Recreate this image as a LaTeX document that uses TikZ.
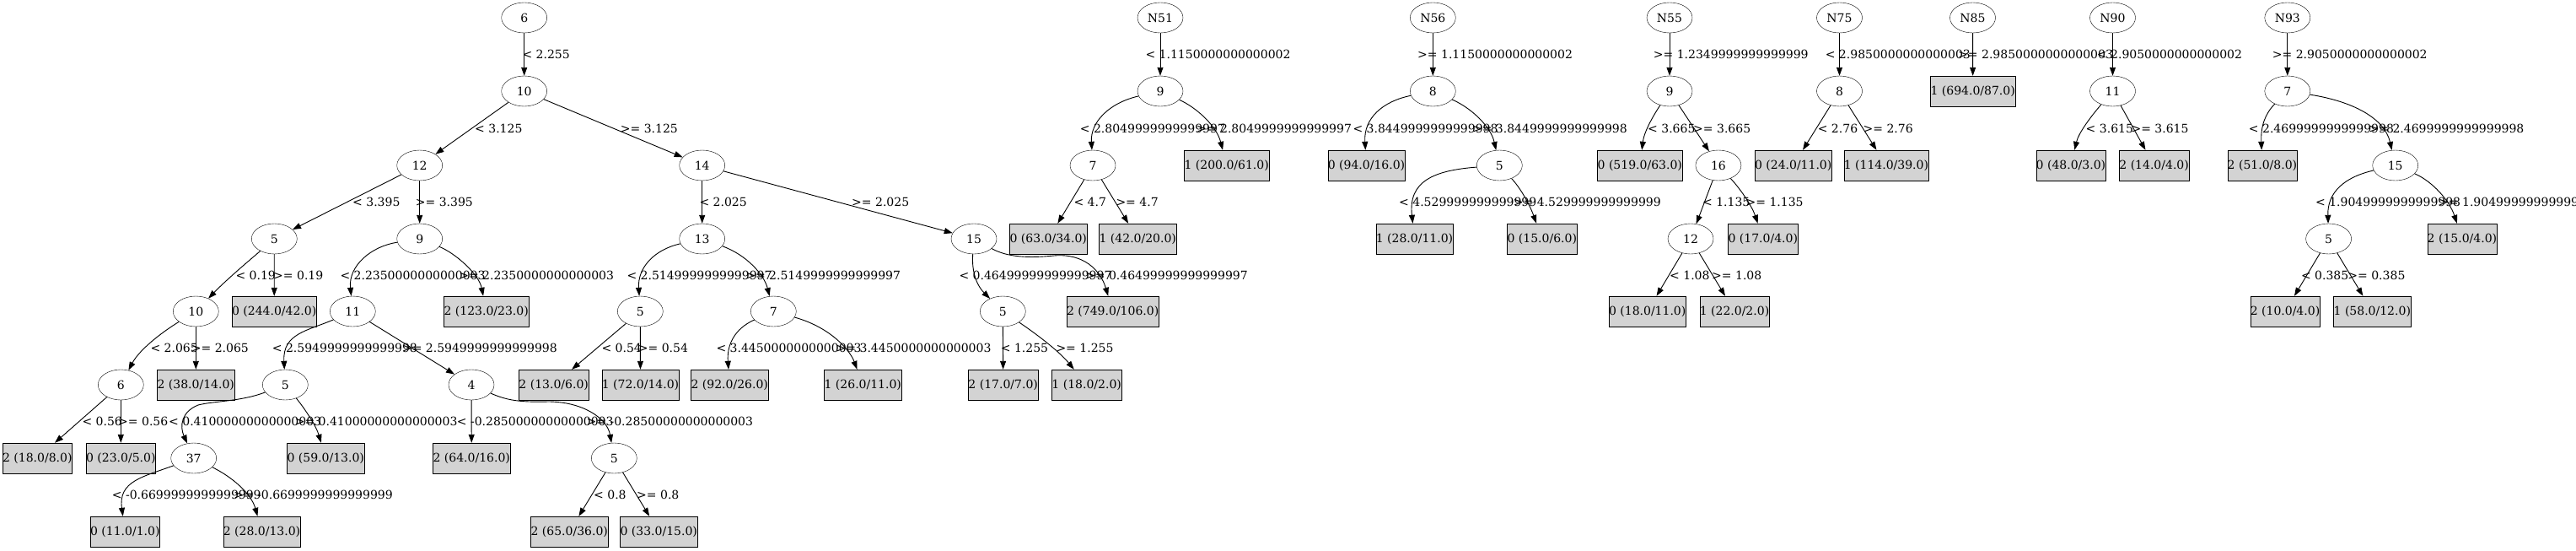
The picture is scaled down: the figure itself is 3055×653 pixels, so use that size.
\documentclass[tikz,border=0pt]{standalone}
\usepackage{fontspec}
\setmainfont{DejaVu Serif}
\usetikzlibrary{shapes.geometric,arrows.meta}
\definecolor{leafgray}{RGB}{211,211,211}
\begin{document}
\begin{tikzpicture}[x=1pt,y=-1pt,
  every node/.style={font=\fontsize{14pt}{16pt}\selectfont},
  ell/.style={draw, ellipse, minimum width=54pt, minimum height=36pt, inner sep=0pt},
  leaf/.style={draw, fill=leafgray, rectangle, minimum height=36pt, inner sep=0pt},
  lw/.style={anchor=base west, inner sep=0pt},
  le/.style={anchor=base east, inner sep=0pt},
  arr/.style={-{Triangle[length=10pt,width=7pt]}, line width=0.9pt}
]
\useasboundingbox (0,0) rectangle (3055,653);
% ---------------- tree 1 ----------------
\node[ell] (a0) at (621.7,21) {6};
\node[ell] (a1) at (621.7,108) {10};
\node[ell] (a2) at (497.7,196) {12};
\node[ell] (a3) at (832.7,196) {14};
\node[ell] (a4) at (325.3,283) {5};
\node[ell] (a5) at (497.7,283) {9};
\node[ell] (a6) at (832.7,283) {13};
\node[ell] (a7) at (1155,283) {15};
\node[ell] (a8) at (232.3,369) {10};
\node[leaf,minimum width=95pt] (a9) at (325.2,369) {0 (244.0/42.0)};
\node[ell] (a10) at (418.3,369) {11};
\node[leaf,minimum width=95pt] (a11) at (576.7,369) {2 (123.0/23.0)};
\node[ell] (a12) at (759.3,369) {5};
\node[ell] (a13) at (917.3,369) {7};
\node[ell] (a14) at (1189.3,369) {5};
\node[leaf,minimum width=101pt] (a15) at (1319.7,369) {2 (749.0/106.0)};
\node[ell] (a16) at (143.3,456) {6};
\node[leaf,minimum width=88pt] (a17) at (232.3,456) {2 (38.0/14.0)};
\node[ell] (a18) at (338.3,456) {5};
\node[ell] (a19) at (559,456) {4};
\node[leaf,minimum width=81pt] (a20) at (656.7,456) {2 (13.0/6.0)};
\node[leaf,minimum width=88pt] (a21) at (759.5,456) {1 (72.0/14.0)};
\node[leaf,minimum width=88pt] (a22) at (865.3,456) {2 (92.0/26.0)};
\node[leaf,minimum width=88pt] (a23) at (1023.3,456) {1 (26.0/11.0)};
\node[leaf,minimum width=81pt] (a24) at (1189.7,456) {2 (17.0/7.0)};
\node[leaf,minimum width=81pt] (a25) at (1288.7,456) {1 (18.0/2.0)};
\node[leaf,minimum width=81pt] (a26) at (44.3,543) {2 (18.0/8.0)};
\node[leaf,minimum width=81pt] (a27) at (143.3,543) {0 (23.0/5.0)};
\node[ell] (a28) at (229.7,543) {37};
\node[leaf,minimum width=88pt] (a29) at (386.3,543) {0 (59.0/13.0)};
\node[leaf,minimum width=88pt] (a30) at (559.3,543) {2 (64.0/16.0)};
\node[ell] (a31) at (728.3,543) {5};
\node[leaf,minimum width=81pt] (a32) at (148.3,630) {0 (11.0/1.0)};
\node[leaf,minimum width=88pt] (a33) at (310.5,630) {2 (28.0/13.0)};
\node[leaf,minimum width=88pt] (a34) at (675.3,630) {2 (65.0/36.0)};
\node[leaf,minimum width=88pt] (a35) at (781.3,630) {0 (33.0/15.0)};

\draw[arr] (a0) -- (a1);
\draw[arr] (a1) -- (a2);
\draw[arr] (a1) -- (a3);
\draw[arr] (a2) -- (a4);
\draw[arr] (a2) -- (a5);
\draw[arr] (a3) -- (a6);
\draw[arr] (a3) -- (a7);
\draw[arr] (a4) .. controls (300,305) and (270,330) .. (a8);
\draw[arr] (a4) -- (a9);
\draw[arr] (a5) .. controls (440,292) and (413,315) .. (a10);
\draw[arr] (a5) .. controls (540,300) and (568,325) .. (a11);
\draw[arr] (a6) .. controls (775,296) and (756,318) .. (a12);
\draw[arr] (a6) .. controls (885,302) and (906,325) .. (a13);
\draw[arr] (a7) .. controls (1152,325) and (1160,340) .. (a14);
\draw[arr] (a7) .. controls (1195,305) and (1220,306) .. (1250,303) .. controls (1285,300) and (1305,320) .. (a15);
\draw[arr] (a8) .. controls (190,395) and (165,415) .. (a16);
\draw[arr] (a8) -- (a17);
\draw[arr] (a10) .. controls (365,392) and (335,395) .. (a18);
\draw[arr] (a10) -- (a19);
\draw[arr] (a12) -- (a20);
\draw[arr] (a12) -- (a21);
\draw[arr] (a13) .. controls (870,390) and (862,410) .. (a22);
\draw[arr] (a13) .. controls (985,388) and (1008,415) .. (a23);
\draw[arr] (a14) -- (a24);
\draw[arr] (a14) .. controls (1225,393) and (1255,415) .. (a25);
\draw[arr] (a16) -- (a26);
\draw[arr] (a16) -- (a27);
\draw[arr] (a18) .. controls (285,476) and (255,475) .. (235,480) .. controls (215,488) and (213,505) .. (a28);
\draw[arr] (a18) .. controls (362,485) and (375,505) .. (a29);
\draw[arr] (a19) -- (a30);
\draw[arr] (a19) .. controls (600,474) and (615,477) .. (650,476) .. controls (690,476) and (720,495) .. (a31);
\draw[arr] (a28) .. controls (170,565) and (140,570) .. (a32);
\draw[arr] (a28) .. controls (275,565) and (298,585) .. (a33);
\draw[arr] (a31) -- (a34);
\draw[arr] (a31) -- (a35);

\node[lw] (la1) at (619.3,69.5) {< 2.255};
\node[lw] (la2) at (563,157) {< 3.125};
\node[lw] (la3) at (735.7,157) {>= 3.125};
\node[lw] (la4) at (418,244.5) {< 3.395};
\node[lw] (la5) at (492.7,244.5) {>= 3.395};
\node[lw] (la6) at (829.3,244.5) {< 2.025};
\node[lw] (la7) at (1010,244.5) {>= 2.025};
\node[lw] (la8) at (279.3,331) {< 0.19};
\node[lw] (la9) at (324,331) {>= 0.19};
\node[lw] (la10) at (403.3,331) {< 2.2350000000000003};
\node[le] (la11) at (728.3,331) {>= 2.2350000000000003};
\node[lw] (la12) at (743.3,331) {< 2.5149999999999997};
\node[le] (la13) at (1068.3,331) {>= 2.5149999999999997};
\node[lw] (la14) at (1137.3,331) {< 0.46499999999999997};
\node[le] (la15) at (1480,331) {>= 0.46499999999999997};
\node[lw] (la16) at (178.3,417.5) {< 2.065};
\node[lw] (la17) at (226.7,417.5) {>= 2.065};
\node[lw] (la18) at (322.7,417.5) {< 2.5949999999999998};
\node[le] (la19) at (661,417.5) {>= 2.5949999999999998};
\node[lw] (la20) at (713.3,417.5) {< 0.54};
\node[lw] (la21) at (756.7,417.5) {>= 0.54};
\node[lw] (la22) at (849.3,417.5) {< 3.4450000000000003};
\node[le] (la23) at (1175.7,417.5) {>= 3.4450000000000003};
\node[lw] (la24) at (1186.7,417.5) {< 1.255};
\node[lw] (la25) at (1252.3,417.5) {>= 1.255};
\node[lw] (la26) at (97.3,504.5) {< 0.56};
\node[lw] (la27) at (140,504.5) {>= 0.56};
\node[lw] (la28) at (200,504.5) {< 0.41000000000000003};
\node[le] (la29) at (542.7,504.5) {>= 0.41000000000000003};
\node[lw] (la30) at (541.7,504.5) {< -0.28500000000000003};
\node[le] (la31) at (893.3,504.5) {>= -0.28500000000000003};
\node[lw] (la32) at (132.7,591.5) {< -0.6699999999999999};
\node[le] (la33) at (466,591.5) {>= -0.6699999999999999};
\node[lw] (la34) at (704,591.5) {< 0.8};
\node[lw] (la35) at (755,591.5) {>= 0.8};

% ---------------- N51 ----------------
\node[ell] (b0) at (1376,21) {N51};
\node[ell] (b1) at (1376,108) {9};
\node[ell] (b2) at (1296,196) {7};
\node[leaf,minimum width=95pt] (b3) at (1454.7,196) {1 (200.0/61.0)};
\node[leaf,minimum width=88pt] (b4) at (1243.3,283) {0 (63.0/34.0)};
\node[leaf,minimum width=88pt] (b5) at (1349.3,283) {1 (42.0/20.0)};
\draw[arr] (b0) -- (b1);
\draw[arr] (b1) .. controls (1315,122) and (1293,145) .. (b2);
\draw[arr] (b1) .. controls (1420,128) and (1443,150) .. (b3);
\draw[arr] (b2) -- (b4);
\draw[arr] (b2) -- (b5);
\node[lw] (lb1) at (1358.3,69.5) {< 1.1150000000000002};
\node[lw] (lb2) at (1280.7,157) {< 2.8049999999999997};
\node[lw] (lb3) at (1419,157) {>= 2.8049999999999997};
\node[lw] (lb4) at (1273.3,244.5) {< 4.7};
\node[lw] (lb5) at (1323.3,244.5) {>= 4.7};

% ---------------- N56 ----------------
\node[ell] (c0) at (1699.3,21) {N56};
\node[ell] (c1) at (1699.3,108) {8};
\node[leaf,minimum width=88pt] (c2) at (1620.5,196) {0 (94.0/16.0)};
\node[ell] (c3) at (1778.3,196) {5};
\node[leaf,minimum width=88pt] (c4) at (1677.5,283) {1 (28.0/11.0)};
\node[leaf,minimum width=81pt] (c5) at (1828.8,283) {0 (15.0/6.0)};
\draw[arr] (c0) -- (c1);
\draw[arr] (c1) .. controls (1640,120) and (1617,140) .. (c2);
\draw[arr] (c1) .. controls (1745,128) and (1768,150) .. (c3);
\draw[arr] (c3) .. controls (1700,202) and (1670,215) .. (c4);
\draw[arr] (c3) .. controls (1805,225) and (1815,245) .. (c5);
\node[lw] (lc1) at (1681,69.5) {>= 1.1150000000000002};
\node[lw] (lc2) at (1604.3,157) {< 3.8449999999999998};
\node[le] (lc3) at (1930,157) {>= 3.8449999999999998};
\node[lw] (lc4) at (1659,244.5) {< 4.529999999999999};
\node[le] (lc5) at (1970,244.5) {>= 4.529999999999999};

% ---------------- N55 ----------------
\node[ell] (d0) at (1980,21) {N55};
\node[ell] (d1) at (1980,108) {9};
\node[leaf,minimum width=95pt] (d2) at (1944.8,196) {0 (519.0/63.0)};
\node[ell] (d3) at (2037.9,196) {16};
\node[ell] (d4) at (2005,283) {12};
\node[leaf,minimum width=81pt] (d5) at (2090.8,283) {0 (17.0/4.0)};
\node[leaf,minimum width=88pt] (d6) at (1953.7,369) {0 (18.0/11.0)};
\node[leaf,minimum width=81pt] (d7) at (2057,369) {1 (22.0/2.0)};
\draw[arr] (d0) -- (d1);
\draw[arr] (d1) .. controls (1962,135) and (1950,155) .. (d2);
\draw[arr] (d1) -- (d3);
\draw[arr] (d3) -- (d4);
\draw[arr] (d3) .. controls (2065,225) and (2078,245) .. (d5);
\draw[arr] (d4) -- (d6);
\draw[arr] (d4) -- (d7);
\node[lw] (ld1) at (1960.7,69.5) {>= 1.2349999999999999};
\node[lw] (ld2) at (1954,157) {< 3.665};
\node[le] (ld3) at (2076.4,157) {>= 3.665};
\node[lw] (ld4) at (2018.9,244.5) {< 1.135};
\node[le] (ld5) at (2138.8,244.5) {>= 1.135};
\node[lw] (ld6) at (1980,331) {< 1.08};
\node[le] (ld7) at (2089.5,331) {>= 1.08};

% ---------------- N75 ----------------
\node[ell] (e0) at (2181.5,21) {N75};
\node[ell] (e1) at (2181.5,108) {8};
\node[leaf,minimum width=88pt] (e2) at (2126.7,196) {0 (24.0/11.0)};
\node[leaf,minimum width=95pt] (e3) at (2236.9,196) {1 (114.0/39.0)};
\draw[arr] (e0) -- (e1);
\draw[arr] (e1) -- (e2);
\draw[arr] (e1) -- (e3);
\node[lw] (le1) at (2164.6,69.5) {< 2.9850000000000003};
\node[lw] (le2) at (2155.6,157) {< 2.76};
\node[lw] (le3) at (2209.4,157) {>= 2.76};

% ---------------- N85 ----------------
\node[ell] (f0) at (2339.5,21) {N85};
\node[leaf,minimum width=95pt] (f1) at (2339.7,108) {1 (694.0/87.0)};
\draw[arr] (f0) -- (f1);
\node[lw] (lf1) at (2322,69.5) {>= 2.9850000000000003};

% ---------------- N90 ----------------
\node[ell] (g0) at (2505.5,21) {N90};
\node[ell] (g1) at (2505.5,108) {11};
\node[leaf,minimum width=81pt] (g2) at (2455.9,196) {0 (48.0/3.0)};
\node[leaf,minimum width=81pt] (g3) at (2554.6,196) {2 (14.0/4.0)};
\draw[arr] (g0) -- (g1);
\draw[arr] (g1) .. controls (2478,140) and (2465,158) .. (g2);
\draw[arr] (g1) -- (g3);
\node[le] (lg1) at (2659.2,69.5) {< 2.9050000000000002};
\node[lw] (lg2) at (2473.5,157) {< 3.615};
\node[le] (lg3) at (2595.7,157) {>= 3.615};

% ---------------- N93 ----------------
\node[ell] (h0) at (2712.8,21) {N93};
\node[ell] (h1) at (2712.8,108) {7};
\node[leaf,minimum width=81pt] (h2) at (2682.9,196) {2 (51.0/8.0)};
\node[ell] (h3) at (2840.7,196) {15};
\node[ell] (h4) at (2761.6,283) {5};
\node[leaf,minimum width=81pt] (h5) at (2919.9,283) {2 (15.0/4.0)};
\node[leaf,minimum width=81pt] (h6) at (2710,369) {2 (10.0/4.0)};
\node[leaf,minimum width=88pt] (h7) at (2813.3,369) {1 (58.0/12.0)};
\draw[arr] (h0) -- (h1);
\draw[arr] (h1) .. controls (2686,135) and (2681,150) .. (h2);
\draw[arr] (h1) .. controls (2790,120) and (2828,140) .. (h3);
\draw[arr] (h3) .. controls (2780,210) and (2760,228) .. (h4);
\draw[arr] (h3) .. controls (2885,215) and (2905,238) .. (h5);
\draw[arr] (h4) -- (h6);
\draw[arr] (h4) -- (h7);
\node[lw] (lh1) at (2694.7,69.5) {>= 2.9050000000000002};
\node[lw] (lh2) at (2666.7,157) {< 2.4699999999999998};
\node[le] (lh3) at (2993.6,157) {>= 2.4699999999999998};
\node[lw] (lh4) at (2745.9,244.5) {< 1.9049999999999998};
\node[lw] (lh5) at (2892,244.5) {>= 1.9049999999999998};
\node[lw] (lh6) at (2728.8,331) {< 0.385};
\node[le] (lh7) at (2852.6,331) {>= 0.385};
\end{tikzpicture}
\end{document}
